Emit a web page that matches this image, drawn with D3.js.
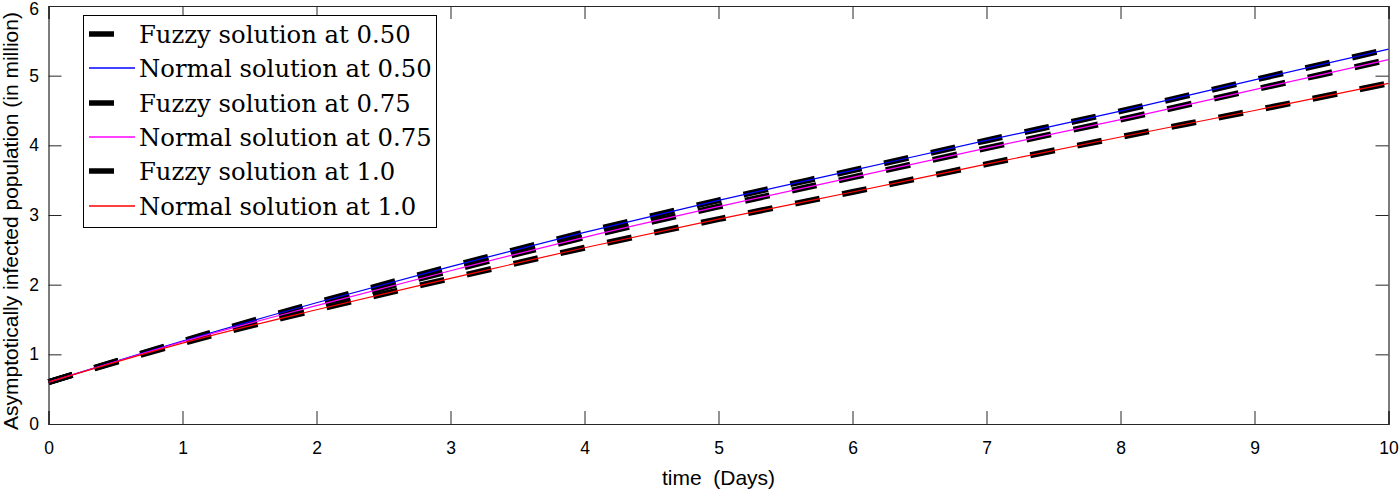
<!DOCTYPE html>
<html>
<head>
<meta charset="utf-8">
<script src="https://cdn.jsdelivr.net/npm/d3@7"></script>
<style>
  body { margin: 0; background: #fff; }
  svg { display: block; }
</style>
</head>
<body>
<svg></svg>
<script>
// time (days) and population (millions)
var days = [0, 1, 2, 3, 4, 5, 6, 7, 8, 9, 10]
var normal050 = [0.60, 1.19, 1.74, 2.26, 2.75, 3.21, 3.64, 4.07, 4.49, 4.94, 5.38]
var normal075 = [0.60, 1.18, 1.70, 2.20, 2.68, 3.12, 3.54, 3.96, 4.37, 4.80, 5.23]
var normal100 = [0.60, 1.16, 1.64, 2.09, 2.53, 2.94, 3.33, 3.73, 4.12, 4.50, 4.89]
// fuzzy solutions coincide with the normal ones
var fuzzy050 = normal050.slice()
var fuzzy075 = normal075.slice()
var fuzzy100 = normal100.slice()
var xTicks = [0, 1, 2, 3, 4, 5, 6, 7, 8, 9, 10]
var yTicks = [0, 1, 2, 3, 4, 5, 6]

var legendItems = [
    {label: "Fuzzy solution at 0.50", fuzzy: true, color: "#000000"},
    {label: "Normal solution at 0.50", fuzzy: false, color: "#0000ff"},
    {label: "Fuzzy solution at 0.75", fuzzy: true, color: "#000000"},
    {label: "Normal solution at 0.75", fuzzy: false, color: "#ff00ff"},
    {label: "Fuzzy solution at 1.0", fuzzy: true, color: "#000000"},
    {label: "Normal solution at 1.0", fuzzy: false, color: "#ff0000"}
]

var dimensions = {
    width: 1400,
    height: 490,
    margin: {top: 6, bottom: 66, left: 48.5, right: 11.5}
}
var plotW = dimensions.width - dimensions.margin.left - dimensions.margin.right
var plotH = dimensions.height - dimensions.margin.top - dimensions.margin.bottom

var svg = d3.select("svg")
    .attr("width", dimensions.width)
    .attr("height", dimensions.height)

var x = d3.scaleLinear().domain([0, 10]).range([dimensions.margin.left, dimensions.margin.left + plotW])
var y = d3.scaleLinear().domain([0, 6]).range([dimensions.margin.top + plotH, dimensions.margin.top])

var axisColor = "#262626"
var tickLen = 13

var line = d3.line()
    .x((d, i) => x(days[i]))
    .y(d => y(d))
    .curve(d3.curveMonotoneX)

// plot lines: fuzzy thick dashes underneath, thin normal lines on top
var series = [
    {values: fuzzy050, fuzzy: true},
    {values: normal050, fuzzy: false, color: "#0000ff"},
    {values: fuzzy075, fuzzy: true},
    {values: normal075, fuzzy: false, color: "#ff00ff"},
    {values: fuzzy100, fuzzy: true},
    {values: normal100, fuzzy: false, color: "#ff0000"}
]

var plot = svg.append("g")
series.filter(s => s.fuzzy).forEach(s => {
    plot.append("path")
        .attr("d", line(s.values))
        .attr("fill", "none")
        .attr("stroke", "#000")
        .attr("stroke-width", 6)
        .attr("stroke-dasharray", "25,23")
})
series.filter(s => !s.fuzzy).forEach(s => {
    plot.append("path")
        .attr("d", line(s.values))
        .attr("fill", "none")
        .attr("stroke", s.color)
        .attr("stroke-width", 1.2)
})

// axes (ticks point inward, on all four sides)
var axBottom = svg.append("g")
    .attr("transform", "translate(0," + y(0) + ")")
    .call(d3.axisBottom(x).tickValues(xTicks).tickSize(-tickLen).tickPadding(18).tickFormat(d3.format("d")))
var axTop = svg.append("g")
    .attr("transform", "translate(0," + y(6) + ")")
    .call(d3.axisTop(x).tickValues(xTicks).tickSize(-tickLen).tickFormat(""))
var axLeft = svg.append("g")
    .attr("transform", "translate(" + x(0) + ",0)")
    .call(d3.axisLeft(y).tickValues(yTicks).tickSize(-tickLen).tickPadding(9.5).tickFormat(d3.format("d")))
var axRight = svg.append("g")
    .attr("transform", "translate(" + x(10) + ",0)")
    .call(d3.axisRight(y).tickValues(yTicks).tickSize(-tickLen).tickFormat(""))

;[axBottom, axTop, axLeft, axRight].forEach(g => {
    g.select(".domain").attr("stroke", axisColor).attr("stroke-width", 1.2)
    g.selectAll(".tick line").attr("stroke", axisColor).attr("stroke-width", 1)
    g.selectAll(".tick text")
        .attr("fill", "#000")
        .style("font-family", "'Liberation Sans', Arial, sans-serif")
        .style("font-size", "17.5px")
})
// keep the top "6" inside the picture
axLeft.selectAll(".tick text").filter(d => d === 6).attr("dy", "0.5em")

// axis labels
svg.append("text")
    .attr("x", x(5))
    .attr("y", 485)
    .attr("text-anchor", "middle")
    .style("font-family", "'Liberation Sans', Arial, sans-serif")
    .style("font-size", "21px")
    .style("white-space", "pre")
    .text("time  (Days)")

svg.append("text")
    .attr("transform", "translate(18,221) rotate(-90)")
    .attr("text-anchor", "middle")
    .style("font-family", "'Liberation Sans', Arial, sans-serif")
    .style("font-size", "21px")
    .text("Asymptotically infected population (in million)")

// legend
var legend = svg.append("g")
legend.append("rect")
    .attr("x", 83.5).attr("y", 15.5)
    .attr("width", 353).attr("height", 212)
    .attr("fill", "#fff")
    .attr("stroke", "#000")
    .attr("stroke-width", 1)

var rowH = 34.3
legendItems.forEach((d, i) => {
    var cy = Math.round(34 + i * rowH)
    legend.append("line")
        .attr("x1", 89).attr("x2", 135)
        .attr("y1", cy).attr("y2", cy)
        .style("stroke", d.color)
        .attr("stroke-width", d.fuzzy ? 5.5 : 1.4)
        .attr("stroke-dasharray", d.fuzzy ? "25,23" : null)
    legend.append("text")
        .attr("x", 139)
        .attr("y", cy + 8.5)
        .style("font-family", "'DejaVu Serif', 'Liberation Serif', serif")
        .style("font-size", "24.3px")
        .text(d.label)
})
</script>
</body>
</html>
